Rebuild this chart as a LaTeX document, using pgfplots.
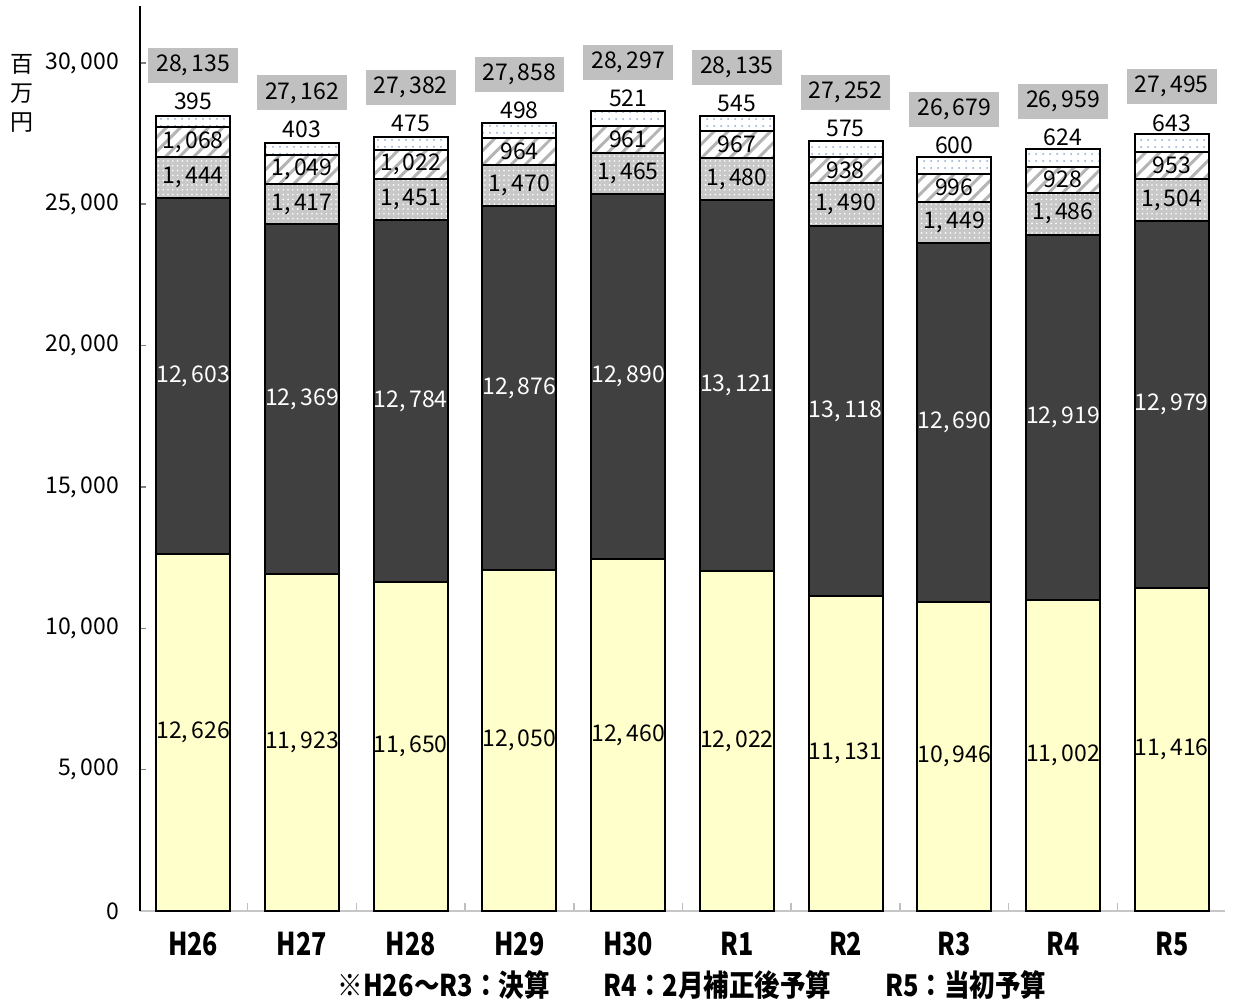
\documentclass[border=0pt]{standalone}
\usepackage{fontspec}
\setmainfont{Noto Sans CJK JP}
\newfontfamily\narrowfont{Noto Sans CJK JP}[FakeStretch=0.8]
\newfontfamily\notefont{Noto Sans CJK JP}[FakeStretch=0.85]
\usepackage{pgfplots}
\pgfplotsset{compat=1.18}
\usepackage{pgfplotstable}
\usetikzlibrary{patterns.meta}

\definecolor{cream}{HTML}{FFFFCC}
\definecolor{darkseg}{HTML}{404040}
\definecolor{dotgray}{HTML}{C8C8C8}
\definecolor{hatchgray}{HTML}{B4B4B4}
\definecolor{dotblue}{HTML}{8FA8D0}
\definecolor{boxgray}{HTML}{C0C0C0}

\newcommand\lbl{\fontsize{11.5}{14.5}\selectfont}
\newcommand\catfont{\narrowfont\fontsize{15.7}{18}\selectfont\bfseries}
\newcommand\footfont{\notefont\fontsize{15}{17}\selectfont\bfseries}

\pgfkeys{/pgf/number format/.cd, fixed, 1000 sep={,\hspace{0.15em}}, assume math mode=true}

% one row per fiscal year: five stacked revenue parts and the stated total
\pgfplotstableread{
x a b c d e total
0 12626 12603 1444 1068 395 28135
1 11923 12369 1417 1049 403 27162
2 11650 12784 1451 1022 475 27382
3 12050 12876 1470 964 498 27858
4 12460 12890 1465 961 521 28297
5 12022 13121 1480 967 545 28135
6 11131 13118 1490 938 575 27252
7 10946 12690 1449 996 600 26679
8 11002 12919 1486 928 624 26959
9 11416 12979 1504 953 643 27495
}\budget

\pgfplotsset{
  % value label in the middle of its own segment of the stack
  seglabel/.style={
    point meta=explicit symbolic,
    nodes near coords={\pgfmathprintnumber{\pgfplotspointmeta}},
    every node near coord/.append style={anchor=center, font=\lbl},
  },
}

\begin{document}
\begin{tikzpicture}
\useasboundingbox (-70pt,-45pt) rectangle (547pt,455.5pt);
\begin{axis}[
  at={(0,0)}, anchor=south west,
  scale only axis, width=542.5pt, height=452.3pt,
  ybar stacked, bar width=37pt,
  xmin=-0.49, xmax=9.49, ymin=0, ymax=32000,
  enlargelimits=false,
  axis x line*=bottom, axis y line*=left,
  x axis line style={draw=gray!45, line width=0.8pt},
  y axis line style={line width=1.2pt},
  ytick={0,5000,...,30000},
  scaled y ticks=false,
  yticklabel style={font=\lbl, xshift=-7pt},
  major y tick style={line width=0.8pt},
  major tick length=3pt,
  xtick={0,...,9},
  xticklabels={H26,H27,H28,H29,H30,R1,R2,R3,R4,R5},
  xticklabel style={font=\catfont, yshift=-7pt},
  major x tick style={draw=none},
  minor xtick={0.5,1.5,...,8.5},
  minor x tick style={draw=gray!50, line width=0.8pt},
  minor tick length=4pt,
  every axis plot/.append style={draw=black, line width=1pt},
]
\addplot[fill=cream, seglabel] table[x=x, y=a, meta=a] {\budget};
\addplot[fill=darkseg, seglabel,
  every node near coord/.append style={text=white}] table[x=x, y=b, meta=b] {\budget};
\addplot[preaction={fill=dotgray}, pattern={Dots[distance=2.4pt, radius=0.45pt]},
  pattern color=white, seglabel] table[x=x, y=c, meta=c] {\budget};
\addplot[preaction={fill=white}, pattern={Lines[angle=45, distance=5pt, line width=1.5pt]},
  pattern color=hatchgray, seglabel] table[x=x, y=d, meta=d] {\budget};
% top part: its value just above the bar, the year's total in a grey box above that
\addplot[preaction={fill=white}, pattern={Dots[distance=3.5pt, radius=0.5pt]},
  pattern color=dotblue, point meta=explicit symbolic,
  visualization depends on={\thisrow{total} \as \tot},
  nodes near coords={\pgfmathprintnumber{\pgfplotspointmeta}},
  every node near coord/.append style={anchor=center, font=\lbl, yshift=10pt,
    label={[anchor=center, yshift=18pt, font=\lbl, fill=boxgray,
      inner xsep=4pt, inner ysep=3.5pt]center:\pgfmathprintnumber{\tot}}}]
  table[x=x, y=e, meta=e] {\budget};
\end{axis}
\node[font=\lbl, align=center] at (-59pt,409pt) {百\\万\\円};
\node[font=\footfont] at (276pt,-37pt) {※H26～R3：決算\hspace{27pt}R4：2月補正後予算\hspace{27pt}R5：当初予算};
\end{tikzpicture}
\end{document}
